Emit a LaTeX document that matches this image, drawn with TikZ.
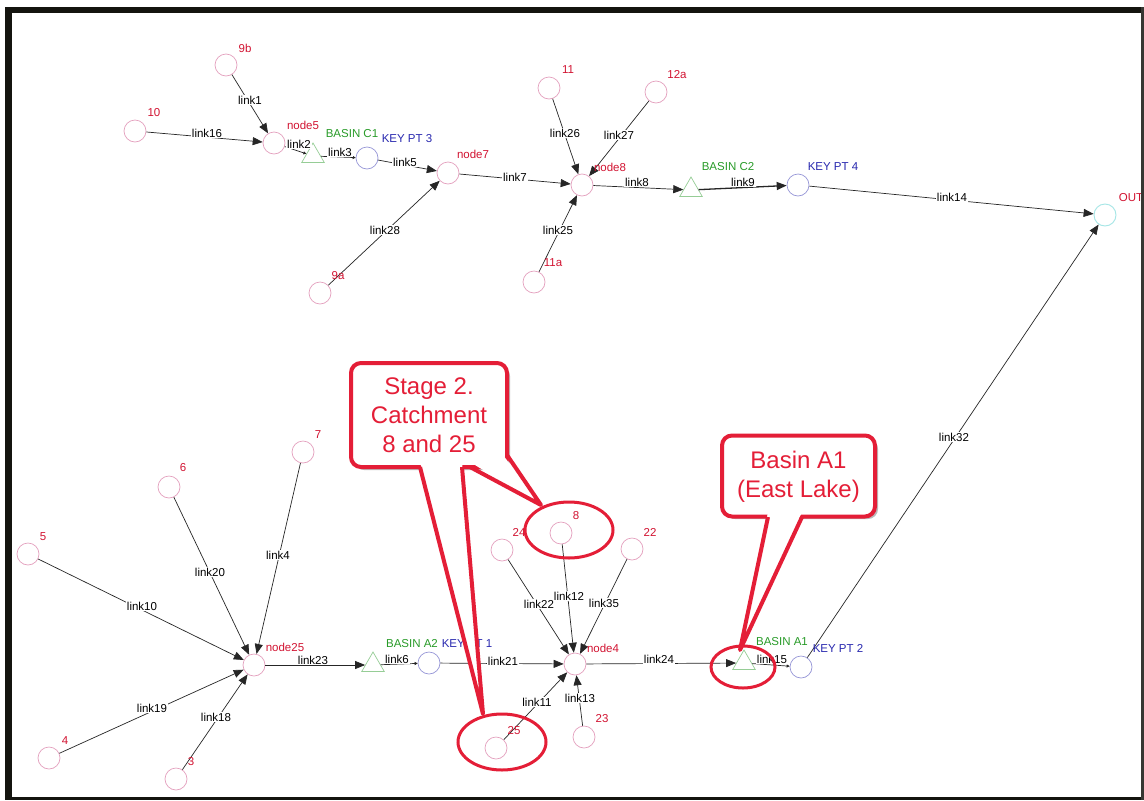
\documentclass[tikz,border=0pt]{standalone}
\usepackage{fontspec}
\setmainfont{Liberation Sans}
\usetikzlibrary{arrows.meta,shapes.geometric}
\definecolor{ptpink}{RGB}{228,160,190}
\definecolor{labred}{RGB}{210,20,50}
\definecolor{kpblue}{RGB}{150,150,215}
\definecolor{labblue}{RGB}{40,40,175}
\definecolor{bsgreen}{RGB}{150,205,150}
\definecolor{labgreen}{RGB}{40,155,40}
\definecolor{outcyan}{RGB}{165,230,230}
\definecolor{callred}{RGB}{228,30,55}
\definecolor{framecol}{RGB}{20,20,15}
\begin{document}
\begin{tikzpicture}[x=1pt,y=-1pt,
  catch/.style={circle,draw=ptpink,line width=0.7pt,minimum size=22pt,inner sep=0pt},
  keypt/.style={circle,draw=kpblue,line width=0.7pt,minimum size=22pt,inner sep=0pt},
  basin/.style={regular polygon,regular polygon sides=3,draw=bsgreen,line width=0.7pt,minimum size=26pt,inner sep=0pt},
  outfall/.style={circle,draw=outcyan,line width=0.9pt,minimum size=22pt,inner sep=0pt},
  small/.style={font=\fontsize{11.5}{13}\selectfont,inner sep=0pt},
  rlab/.style={small,text=labred},
  blab/.style={small,text=labblue},
  glab/.style={small,text=labgreen},
  lk/.style={small,fill=white,inner sep=1pt,text=black},
  flow/.style={draw=black!85,line width=0.7pt,-{Triangle[length=10pt,width=8pt]}},
  stub/.style={draw=black!85,line width=0.7pt,-{Triangle[length=3pt,width=3pt]}},
  ring/.style={draw=callred,line width=3pt},
  bubble/.style={draw=callred,fill=white,line width=4pt,rounded corners=10pt},
  tailfill/.style={fill=white},
  tailedge/.style={draw=callred,line width=4pt,line join=round},
  say/.style={text=callred,align=center,font=\fontsize{24}{29}\selectfont,inner sep=0pt}
]
\useasboundingbox (0,0) rectangle (1144,801);
\fill[white] (0,0) rectangle (1144,801);

% ---------- upper network (C branch) ----------
\node[catch] (n9b) at (226,65) {};
\node[catch] (n10) at (135,131) {};
\node[catch] (node5) at (274,143) {};
\node[basin] (c1) at (313,156) {};
\node[keypt] (kp3) at (367,158) {};
\node[catch] (node7) at (448,173) {};
\node[catch] (n9a) at (320,293) {};
\node[catch] (n11) at (549,88) {};
\node[catch] (n12a) at (656,92) {};
\node[catch] (node8) at (582,185) {};
\node[catch] (n11a) at (534,282) {};
\node[basin] (c2) at (691,190) {};
\node[keypt] (kp4) at (798,185) {};
\node[outfall] (out) at (1105,215) {};

% ---------- lower network (A branch) ----------
\node[catch] (n7) at (303,452) {};
\node[catch] (n6) at (169,487) {};
\node[catch] (n5) at (28,554) {};
\node[catch] (node25) at (254,665) {};
\node[catch] (n4) at (49,758) {};
\node[catch] (n3) at (176,779) {};
\node[basin] (a2) at (373,665) {};
\node[keypt] (kp1) at (429,663) {};
\node[catch] (node4) at (575,664) {};
\node[catch] (n24) at (502,550) {};
\node[catch] (n8) at (561,533) {};
\node[catch] (n22) at (632,549) {};
\node[catch] (n25) at (496,748) {};
\node[catch] (n23) at (584,737) {};
\node[basin] (a1) at (744,663) {};
\node[keypt] (kp2) at (801,667) {};

% ---------- links ----------
\draw[flow] (n9b) -- (node5);
\draw[flow] (n10) -- (node5);
\draw[stub] (node5) -- (c1);
\draw[stub] (c1) -- (kp3);
\draw[flow] (kp3) -- (node7);
\draw[flow] (n9a) -- (node7);
\draw[flow] (node7) -- (node8);
\draw[flow] (n11) -- (node8);
\draw[flow] (n12a) -- (node8);
\draw[flow] (n11a) -- (node8);
\draw[flow] (node8) -- (c2);
\draw[flow,line width=1.3pt] (c2) -- (kp4);
\draw[flow] (kp4) -- (out);
\draw[flow] (kp2) -- (out);
\draw[flow] (n5) -- (node25);
\draw[flow] (n6) -- (node25);
\draw[flow] (n7) -- (node25);
\draw[flow] (n4) -- (node25);
\draw[flow] (n3) -- (node25);
\draw[flow] (node25) -- (a2);
\draw[stub] (a2) -- (kp1);
\draw[flow] (kp1) -- (node4);
\draw[flow] (n24) -- (node4);
\draw[flow] (n8) -- (node4);
\draw[flow] (n22) -- (node4);
\draw[flow] (n25) -- (node4);
\draw[flow] (n23) -- (node4);
\draw[flow] (node4) -- (a1);
\draw[stub] (a1) -- (kp2);

% ---------- link labels ----------
\node[lk] (l1) at (250,100) {link1};
\node[lk] (l16) at (207,133) {link16};
\node[lk] (l2) at (299,144) {link2};
\node[lk] (l3) at (340,152) {link3};
\node[lk] (l5) at (405,162) {link5};
\node[lk] (l28) at (385,230) {link28};
\node[lk] (l7) at (515,177) {link7};
\node[lk] (l26) at (565,133) {link26};
\node[lk] (l27) at (619,135) {link27};
\node[lk] (l25) at (558,230) {link25};
\node[lk] (l8) at (637,182) {link8};
\node[lk] (l9) at (743,182) {link9};
\node[lk] (l14) at (952,197) {link14};
\node[lk] (l32) at (954,437) {link32};
\node[lk] (l10) at (142,606) {link10};
\node[lk] (l20) at (210,572) {link20};
\node[lk] (l4) at (278,555) {link4};
\node[lk] (l19) at (152,708) {link19};
\node[lk] (l18) at (216,717) {link18};
\node[lk] (l23) at (313,660) {link23};
\node[lk] (l6) at (397,659) {link6};
\node[lk] (l21) at (503,661) {link21};
\node[lk] (l22) at (539,604) {link22};
\node[lk] (l12) at (569,596) {link12};
\node[lk] (l35) at (604,603) {link35};
\node[lk] (l24) at (659,659) {link24};
\node[lk] (l11) at (537,702) {link11};
\node[lk] (l13) at (580,698) {link13};
\node[lk] (l15) at (772,659) {link15};

% ---------- node names ----------
\node[rlab] (t9b) at (245,48) {9b};
\node[rlab] (t10) at (154,113) {10};
\node[rlab] (tnode5) at (303,125) {node5};
\node[glab] (tc1) at (352,134) {BASIN C1};
\node[blab] (tkp3) at (407,139) {KEY PT 3};
\node[rlab] (tnode7) at (473,154) {node7};
\node[rlab] (t9a) at (338,276) {9a};
\node[rlab] (t11) at (568,70) {11};
\node[rlab] (t12a) at (677,75) {12a};
\node[rlab] (tnode8) at (610,167) {node8};
\node[rlab] (t11a) at (553,263) {11a};
\node[glab] (tc2) at (728,167) {BASIN C2};
\node[blab] (tkp4) at (833,167) {KEY PT 4};
\node[rlab] (tout) at (1131,198) {OUT};
\node[rlab] (t7) at (318,435) {7};
\node[rlab] (t6) at (183,468) {6};
\node[rlab] (t5) at (43,537) {5};
\node[rlab] (tnode25) at (285,647) {node25};
\node[rlab] (t4) at (65,741) {4};
\node[rlab] (t3) at (191,762) {3};
\node[glab] (ta2) at (412,644) {BASIN A2};
\node[blab] (tkp1) at (467,644) {KEY PT 1};
\node[rlab] (tnode4) at (603,648) {node4};
\node[rlab] (t24) at (519,532) {24};
\node[rlab] (t8) at (576,516) {8};
\node[rlab] (t22) at (650,532) {22};
\node[rlab] (t25) at (514,731) {25};
\node[rlab] (t23) at (602,719) {23};
\node[glab] (ta1) at (782,642) {BASIN A1};
\node[blab] (tkp2) at (838,648) {KEY PT 2};

% ---------- hand-drawn rings ----------
\draw[ring] (569,530) ellipse [x radius=44, y radius=28];
\draw[ring] (502,742) ellipse [x radius=44, y radius=28];
\draw[ring] (743,667) ellipse [x radius=32, y radius=21];

% ---------- callout: Stage 2 ----------
\coordinate (sA1) at (420,462);
\coordinate (sA2) at (462,462);
\coordinate (sAtip) at (483,714);
\coordinate (sB1) at (470,462);
\coordinate (sB2) at (503,455);
\coordinate (sBtip) at (541,505);
\fill[black!45,opacity=0.6,rounded corners=10pt] (354,366) rectangle (510,470);
\node[bubble,minimum width=156pt,minimum height=104pt] (stage) at (429,415) {};
\fill[tailfill] (sA1) -- (sAtip) -- (sA2) -- cycle;
\fill[tailfill] (sB1) -- (sBtip) -- (sB2) -- cycle;
\draw[tailedge] (420,467) -- (sAtip) -- (462,467);
\draw[tailedge] (470,467) -- (sBtip) -- (507,455);
\node[say] (stagetxt) at (429,415) {Stage 2.\\Catchment\\8 and 25};

% ---------- callout: Basin A1 ----------
\coordinate (eA1) at (768,512);
\coordinate (eA2) at (802,512);
\coordinate (eAtip) at (740,650);
\fill[black!45,opacity=0.6,rounded corners=10pt] (725,439) rectangle (878,519);
\node[bubble,minimum width=153pt,minimum height=81pt] (lake) at (798.5,476) {};
\fill[tailfill] (eA1) -- (eAtip) -- (eA2) -- cycle;
\draw[tailedge] (768,517) -- (eAtip) -- (802,517);
\node[say] (laketxt) at (798.5,477) {Basin A1\\(East Lake)};

% ---------- frame ----------
\fill[framecol] (5,7) rectangle (1144,13);
\fill[framecol] (5,7) rectangle (12,800);
\fill[framecol] (5,797) rectangle (1144,800);
\fill[framecol!85] (1141,7) rectangle (1144,800);
\end{tikzpicture}
\end{document}
